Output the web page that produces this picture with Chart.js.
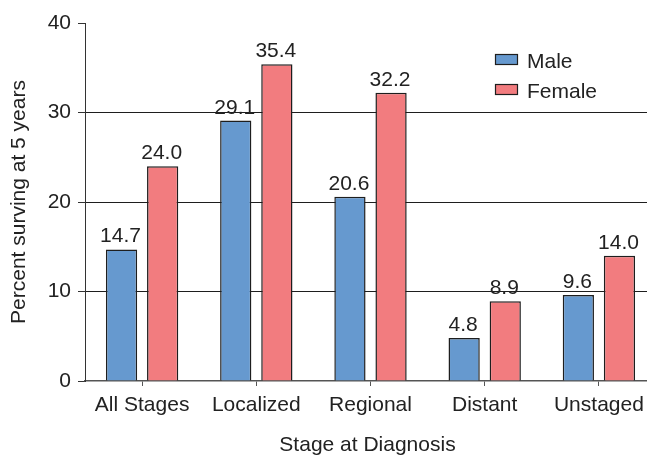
<!DOCTYPE html>
<html>
<head>
<meta charset="utf-8">
<script src="https://cdn.jsdelivr.net/npm/chart.js@4"></script>
<style>
  html, body { margin: 0; padding: 0; background: #fff; overflow: hidden; }
  #survivalChart { display: block; }
</style>
</head>
<body>
<canvas id="survivalChart" width="656" height="455"></canvas>
<script>
/* DATA */

const stages = ["All Stages", "Localized", "Regional", "Distant", "Unstaged"];
const maleSurvival = [14.7, 29.1, 20.6, 4.8, 9.6];
const femaleSurvival = [24.0, 35.4, 32.2, 8.9, 14.0];
const seriesNames = ["Male", "Female"];
const yTitle = "Percent surving at 5 years";
const xTitle = "Stage at Diagnosis";

const FONT = "'Liberation Sans', Arial, Helvetica, sans-serif";
const TEXT = "#222";
const BLUE = "#6699cf";
const RED = "#f27c7f";
const EDGE = "#1e1e1e";

/* PLUGINS */

// numbers printed above each bar
const barValueLabels = {
  id: "barValueLabels",
  afterDatasetsDraw(chart) {
    const ctx = chart.ctx;
    ctx.save();
    ctx.font = "21px " + FONT;
    ctx.fillStyle = TEXT;
    ctx.textAlign = "center";
    ctx.textBaseline = "alphabetic";
    chart.data.datasets.forEach((ds, i) => {
      chart.getDatasetMeta(i).data.forEach((bar, j) => {
        ctx.fillText(ds.data[j].toFixed(1), bar.x - 1, bar.y - 7);
      });
    });
    ctx.restore();
  }
};

// legend box in the upper right of the plot
const insideLegend = {
  id: "insideLegend",
  afterDraw(chart) {
    const ctx = chart.ctx;
    ctx.save();
    ctx.font = "21px " + FONT;
    ctx.textBaseline = "middle";
    ctx.textAlign = "left";
    chart.data.datasets.forEach((ds, i) => {
      const y = 54 + i * 30;
      ctx.fillStyle = ds.backgroundColor;
      ctx.fillRect(495, y, 23, 11);
      ctx.strokeStyle = EDGE;
      ctx.lineWidth = 1.2;
      ctx.strokeRect(495.5, y + 0.5, 22, 10);
      ctx.fillStyle = TEXT;
      ctx.fillText(ds.label, 527, y + 8);
    });
    ctx.restore();
  }
};

// x axis title, centred under the plot
const bottomTitle = {
  id: "bottomTitle",
  afterDraw(chart) {
    const ctx = chart.ctx;
    const area = chart.chartArea;
    ctx.save();
    ctx.font = "21px " + FONT;
    ctx.fillStyle = TEXT;
    ctx.textAlign = "center";
    ctx.textBaseline = "alphabetic";
    ctx.fillText(xTitle, (area.left + area.right) / 2 - 3, 451);
    ctx.restore();
  }
};

/* CHART */

new Chart(document.getElementById("survivalChart"), {
  type: "bar",
  data: {
    labels: stages,
    datasets: [
      {
        label: seriesNames[0],
        data: maleSurvival,
        backgroundColor: BLUE,
        borderColor: EDGE,
        borderWidth: 1.5,
        categoryPercentage: 0.72,
        barPercentage: 0.76
      },
      {
        label: seriesNames[1],
        data: femaleSurvival,
        backgroundColor: RED,
        borderColor: EDGE,
        borderWidth: 1.5,
        categoryPercentage: 0.72,
        barPercentage: 0.76
      }
    ]
  },
  options: {
    responsive: false,
    animation: false,
    layout: { padding: { left: 4, top: 23, right: 0, bottom: 0 } },
    plugins: {
      legend: { display: false },
      tooltip: { enabled: false }
    },
    scales: {
      x: {
        offset: true,
        grid: {
          offset: false,
          drawOnChartArea: false,
          tickLength: 5,
          tickColor: "#555"
        },
        border: { color: "#555", width: 1.5 },
        ticks: {
          color: TEXT,
          padding: 7,
          font: { family: FONT, size: 21 }
        },
        afterFit(scale) { scale.height = 74; }
      },
      y: {
        min: 0,
        max: 40,
        ticks: {
          stepSize: 10,
          color: TEXT,
          padding: 7,
          font: { family: FONT, size: 21 }
        },
        grid: {
          color: c => (c.tick.value > 0 && c.tick.value < 40 ? "#1e1e1e" : "rgba(0,0,0,0)"),
          tickColor: "#333",
          tickLength: 7
        },
        border: { color: "#333", width: 1 },
        title: {
          display: true,
          text: yTitle,
          color: TEXT,
          padding: { top: 3, bottom: 0 },
          font: { family: FONT, size: 21 }
        },
        afterFit(scale) { scale.width = 81; }
      }
    }
  },
  plugins: [barValueLabels, insideLegend, bottomTitle]
});
</script>
</body>
</html>
